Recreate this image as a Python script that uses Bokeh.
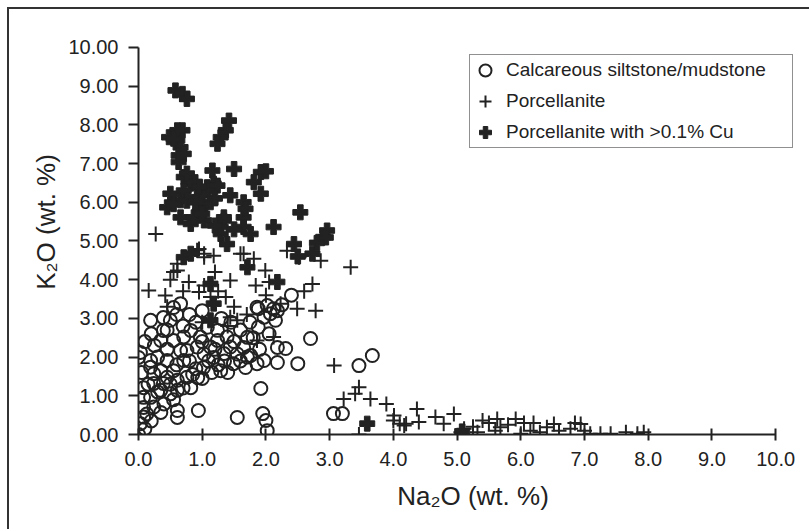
from bokeh.plotting import figure
from bokeh.models import Range1d, FixedTicker, NumeralTickFormatter, Legend, LegendItem
from bokeh.embed import file_html
from bokeh.resources import INLINE

# ---- data ----
calc_x = [0.0, 0.03, 0.08, 0.13, 0.08, 0.24, 0.35, 0.61, 0.61, 0.94, 1.55, 1.95, 2.0, 2.02, 1.92,
          3.06, 3.2, 3.46, 3.67, 2.7, 2.4, 2.5, 2.18, 2.18, 2.31, 2.15, 2.12, 2.02, 1.88, 1.88,
          1.71, 1.65, 1.76, 1.68, 1.49, 1.29, 1.18, 1.34, 1.02, 0.93, 0.82, 0.61, 0.39, 0.24, 0.08,
          0.08, 0.0, 0.03, 0.19, 0.19, 0.39, 0.39, 0.55, 0.66,
          0.50, 0.35, 0.55, 0.71, 0.82, 0.66, 0.45, 0.35, 0.55, 0.71, 0.76, 0.92, 1.03, 1.13, 0.97,
          1.08, 1.24, 1.24, 1.39, 1.44, 1.55, 0.76, 0.61, 0.45, 0.24, 0.19, 0.35, 0.19, 0.50, 0.40,
          1.86, 1.71, 1.97, 1.86, 1.97, 2.07, 2.18,
          0.3, 0.45, 0.6, 0.8, 0.9, 1.0, 1.1, 1.2, 1.35, 1.5, 1.6, 1.8, 0.15, 0.3, 0.5, 0.7, 0.85,
          1.0, 1.15, 0.25, 0.7, 0.9, 0.45, 0.6, 0.8, 1.3, 1.45, 1.0, 0.05, 0.1, 0.2, 1.9, 2.05,
          1.75, 2.25, 1.6, 1.4, 1.25, 0.55, 0.2, 0.1]
calc_y = [0.0, 0.28, 0.45, 0.53, 0.70, 0.71, 0.57, 0.62, 0.44, 0.62, 0.44, 0.54, 0.36, 0.1, 1.19,
          0.54, 0.54, 1.78, 2.04, 2.48, 3.6, 1.83, 1.86, 2.25, 2.22, 2.95, 3.25, 3.33, 3.25, 2.77,
          2.51, 2.25, 2.04, 1.73, 1.83, 1.65, 1.99, 2.09, 1.73, 1.47, 1.21, 1.14, 1.32, 1.32, 1.21,
          0.96, 1.99, 2.12, 1.91, 2.95, 2.69, 3.02, 3.28, 3.38,
          2.95, 2.43, 2.43, 2.52, 2.69, 2.17, 1.91, 1.65, 1.65, 1.91, 2.17, 2.26, 2.08, 2.26, 2.52,
          2.77, 2.69, 2.43, 2.52, 2.26, 2.08, 1.48, 1.40, 1.48, 1.57, 1.74, 1.14, 0.96, 1.05, 0.79,
          1.83, 2.0, 1.91, 3.29, 3.03, 3.12, 3.20,
          2.0, 2.2, 1.8, 1.9, 1.7, 2.4, 1.9, 2.2, 1.9, 2.4, 2.7, 2.5, 1.3, 1.1, 1.3, 1.2, 1.55,
          1.45, 1.6, 2.3, 2.8, 2.9, 2.7, 3.1, 3.1, 3.0, 2.9, 3.2, 1.6, 2.4, 2.6, 2.2, 2.6,
          2.9, 3.35, 1.9, 1.6, 1.8, 0.9, 0.35, 0.15]

porc_x = [0.27, 0.16, 0.42, 0.61, 0.61, 0.79, 0.95, 1.13, 1.03, 0.95, 1.03, 1.18, 1.44, 1.37, 1.44,
          1.55, 1.65, 1.81, 1.99, 1.84, 2.05, 2.33, 2.52, 2.73, 2.49, 2.78, 2.23, 3.33, 3.07, 3.22,
          3.40, 3.46, 3.64, 3.89, 4.01, 4.0, 4.17, 4.37, 4.4, 4.66, 4.79, 4.95, 5.06, 5.11, 5.32,
          5.40, 5.63, 5.68, 5.92, 6.0, 6.15, 6.3, 6.41, 6.52, 6.78, 6.94, 7.0, 7.09, 7.25, 7.41,
          7.65, 7.83, 7.93, 2.86, 3.46, 4.1, 4.2, 1.86, 2.12, 0.92, 1.03, 1.6, 5.6, 5.8, 6.2,
          6.6, 6.85, 5.25, 5.5, 6.05, 0.55, 0.5, 0.7, 1.2, 1.25, 2.0, 2.6, 0.45, 1.5, 1.7, 1.0, 1.4]
porc_y = [5.18, 3.72, 3.59, 4.24, 4.41, 3.94, 3.68, 3.55, 3.85, 4.79, 4.58, 4.62, 3.98, 3.55, 3.03,
          2.95, 4.67, 4.54, 4.24, 3.85, 3.94, 4.75, 4.58, 3.89, 3.25, 3.20, 3.38, 4.32, 1.78, 0.92,
          1.05, 1.22, 0.92, 0.79, 0.49, 0.36, 0.23, 0.66, 0.32, 0.45, 0.28, 0.53, 0.06, 0.15, 0.06,
          0.36, 0.4, 0.19, 0.4, 0.02, 0.1, 0.06, 0.19, 0.27, 0.15, 0.27, 0.1, 0.02, 0.02, 0.02,
          0.06, 0.02, 0.06, 4.49, 0.0, 0.28, 0.28, 2.43, 2.52, 4.76, 4.67, 4.67, 0.1, 0.25, 0.3,
          0.1, 0.3, 0.2, 0.3, 0.3, 4.2, 4.0, 3.7, 4.2, 3.7, 3.6, 3.7, 3.3, 3.3, 3.1, 2.9, 2.8]

cu_x = [0.58, 0.69, 0.76, 1.42, 1.37, 1.29, 1.24, 0.48, 0.69, 0.61, 0.66, 0.63, 0.71, 0.63, 1.16,
        1.50, 1.92, 1.81, 1.92, 2.54, 2.96, 0.71, 0.82, 0.5, 0.66, 0.45, 0.92, 1.08, 1.18, 0.97,
        1.44, 1.65, 0.66, 0.82, 1.34, 1.65, 2.12, 0.61, 0.55, 0.76, 0.89, 1.08, 1.24, 0.71, 1.13,
        0.87, 1.03, 1.34, 1.29, 1.68, 0.97, 0.76, 0.71, 0.82, 1.13, 1.18, 1.13, 1.29, 1.39, 1.65,
        1.76, 1.71, 2.44, 2.73, 2.9, 2.18, 3.59, 2.94, 2.0, 1.0, 0.9, 1.2, 0.55, 1.0, 1.2, 1.5,
        0.95, 2.8, 2.5, 5.08]
cu_y = [8.89, 8.80, 8.67, 8.11, 7.86, 7.68, 7.51, 7.68, 7.86, 7.6, 7.42, 7.21, 7.25, 7.04, 6.82,
        6.86, 6.78, 6.52, 6.22, 5.74, 5.27, 6.65, 6.48, 6.22, 6.05, 5.87, 6.13, 6.39, 6.48, 5.87,
        6.18, 6.0, 5.61, 5.44, 5.61, 5.61, 5.36, 7.86, 7.64, 6.74, 6.52, 6.30, 6.43, 6.3, 6.0,
        5.61, 5.53, 5.53, 5.18, 5.83, 5.78, 6.04, 4.58, 4.67, 3.89, 3.38, 2.95, 5.36, 4.92, 5.36,
        5.18, 4.32, 4.92, 4.67, 5.1, 3.94, 0.28, 5.09, 6.8, 6.2, 6.0, 6.1, 5.95, 5.7, 5.4, 5.3,
        6.4, 4.95, 4.6, 0.08]

tick_values = [0, 1, 2, 3, 4, 5, 6, 7, 8, 9, 10]
legend_labels = ["Calcareous siltstone/mudstone", "Porcellanite", "Porcellanite with >0.1% Cu"]
x_title = "Na₂O (wt. %)"
y_title = "K₂O (wt. %)"

INK = "#222222"
FONT = "Liberation Sans"

p = figure(width=803, height=522, output_backend="svg", toolbar_location=None,
           x_range=Range1d(0.0, 10.5), y_range=Range1d(0.0, 10.98),
           min_border_left=129, min_border_right=5, min_border_top=0, min_border_bottom=97,
           margin=(9, 0, 0, 9),
           styles={"box-shadow": "-2px -2px 0px 0px #333"})
p.outline_line_color = None
p.grid.visible = False
p.background_fill_color = "white"
p.border_fill_color = "white"

for ax in (p.xaxis[0], p.yaxis[0]):
    ax.bounds = (0, 10)
    ax.ticker = FixedTicker(ticks=tick_values)
    ax.minor_tick_line_color = None
    ax.axis_line_color = INK
    ax.axis_line_width = 2
    ax.major_tick_line_color = INK
    ax.major_tick_line_width = 2
    ax.major_label_text_font = FONT
    ax.major_label_text_font_size = "20px"
    ax.major_label_text_color = INK
    ax.axis_label_text_font = FONT
    ax.axis_label_text_font_size = "26px"
    ax.axis_label_text_font_style = "normal"
    ax.axis_label_text_color = INK

p.xaxis[0].formatter = NumeralTickFormatter(format="0.0")
p.yaxis[0].formatter = NumeralTickFormatter(format="0.00")
p.xaxis[0].major_tick_in = 6
p.xaxis[0].major_tick_out = 6
p.yaxis[0].major_tick_in = 0
p.yaxis[0].major_tick_out = 10
p.xaxis[0].major_label_standoff = 11
p.yaxis[0].major_label_standoff = 10
p.xaxis[0].axis_label = x_title
p.yaxis[0].axis_label = y_title
p.xaxis[0].axis_label_standoff = 12
p.yaxis[0].axis_label_standoff = 4

r_calc = p.scatter(calc_x, calc_y, marker="circle", size=13, fill_color=None,
                   line_color=INK, line_width=2)
r_porc = p.scatter(porc_x, porc_y, marker="cross", size=15, line_color=INK, line_width=2)
r_cu = p.scatter(cu_x, cu_y, marker="plus", size=15, fill_color=INK, line_color=INK, line_width=1)

legend = Legend(items=[LegendItem(label=legend_labels[0], renderers=[r_calc]),
                       LegendItem(label=legend_labels[1], renderers=[r_porc]),
                       LegendItem(label=legend_labels[2], renderers=[r_cu])],
                location=(331, 286), orientation="vertical")
legend.label_text_font = FONT
legend.label_text_font_size = "19px"
legend.label_text_color = INK
legend.glyph_width = 30
legend.glyph_height = 30
legend.label_standoff = 6
legend.label_width = 286
legend.padding = 0
legend.spacing = 1
legend.margin = 0
legend.border_line_color = INK
legend.border_line_width = 1.5
legend.background_fill_color = "white"
legend.background_fill_alpha = 1.0
p.add_layout(legend, "center")

open("out.html", "w").write(file_html(p, INLINE))
